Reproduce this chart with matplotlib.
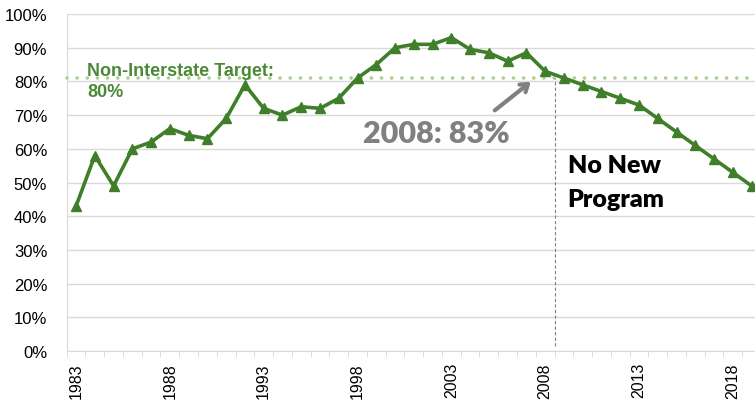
import numpy as np
import matplotlib
matplotlib.use('Agg')
import matplotlib.pyplot as plt
from matplotlib.ticker import FixedLocator, PercentFormatter

years = list(range(1983, 2020))
pct_good = [43, 58, 49, 60, 62, 66, 64, 63, 69, 79,
            72, 70, 72.5, 72, 75, 81, 85, 90, 91, 91,
            93, 89.5, 88.5, 86, 88.5, 83, 81, 79, 77, 75,
            73, 69, 65, 61, 57, 53, 49]
target = 81
label_years = [1983, 1988, 1993, 1998, 2003, 2008, 2013, 2018]

green = '#3f7f2a'
fig = plt.figure(figsize=(7.55, 4.06), dpi=100)
ax = fig.add_axes([0.0883, 0.133, 0.9196, 0.830])

ax.plot(years, pct_good, color=green, lw=2.6, marker='^', ms=7, zorder=4)

# target line + label
ax.axhline(target, color='#a9d08e', lw=2.6, ls=(0, (0.01, 2.8)),
           dash_capstyle='round', zorder=3, clip_on=False)
ax.text(1983.6, 81.9, 'Non-Interstate Target:', color='#4a8a36',
        fontsize=13, fontweight='bold', family='Liberation Sans', va='baseline')
ax.text(1983.6, 75.7, '80%', color='#4a8a36',
        fontsize=13, fontweight='bold', family='Liberation Sans', va='baseline')

# 2008 callout
ax.annotate('', xy=(2007.35, 80.4), xytext=(2005.2, 70.9),
            arrowprops=dict(arrowstyle='->,head_length=0.5,head_width=0.35',
                            color='#808080', lw=3))
ax.text(2002.2, 61.9, '2008: 83%', color='#808080', fontsize=22,
        fontweight='heavy', family='Lato', ha='center', va='baseline')

# no new program
ax.plot([2008.5, 2008.5], [1.5, 81], color='#808080', lw=0.8, ls=(0, (3, 2)), zorder=2)
ax.text(2009.2, 53.2, 'No New', color='black', fontsize=18,
        fontweight='heavy', family='Lato', va='baseline')
ax.text(2009.2, 43.1, 'Program', color='black', fontsize=18,
        fontweight='heavy', family='Lato', va='baseline')

ax.set_xlim(1982.5, 2019.5)
ax.set_ylim(0, 100)
ax.set_yticks(np.arange(0, 101, 10))
ax.yaxis.set_major_formatter(PercentFormatter(decimals=0))
ax.set_xticks(label_years)
ax.set_xticklabels([str(y) for y in label_years], rotation=90)
ax.xaxis.set_minor_locator(FixedLocator(np.arange(1982.5, 2020, 1)))
ax.tick_params(axis='x', which='major', length=0, pad=8, labelsize=11.5)
ax.tick_params(axis='x', which='minor', length=4, color='#d9d9d9')
ax.tick_params(axis='y', length=0, pad=14, labelsize=12)
for lab in ax.get_xticklabels() + ax.get_yticklabels():
    lab.set_family('Liberation Sans')

ax.grid(axis='y', color='#d9d9d9', lw=1)
ax.set_axisbelow(True)
for s in ['top', 'right']:
    ax.spines[s].set_visible(False)
ax.spines['left'].set_color('#d9d9d9')
ax.spines['bottom'].set_color('#d9d9d9')

fig.savefig('out.png', dpi=100)
